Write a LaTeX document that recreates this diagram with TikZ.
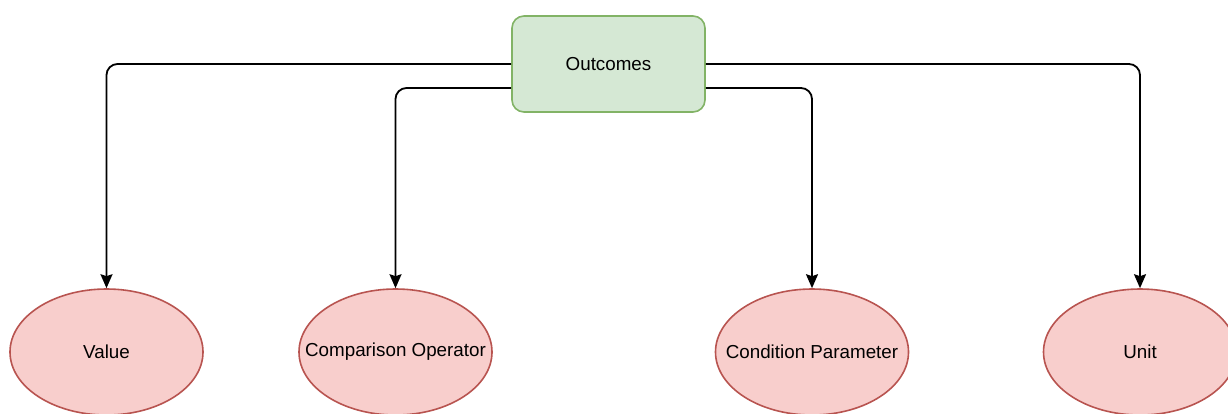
\documentclass[tikz,border=0pt]{standalone}
\usepackage{fontspec}
\setmainfont{Liberation Sans}
\usetikzlibrary{arrows.meta,shapes.geometric}
\definecolor{boxfill}{HTML}{D5E8D4}
\definecolor{boxline}{HTML}{82B366}
\definecolor{ovalfill}{HTML}{F8CECC}
\definecolor{ovalline}{HTML}{B85450}
\begin{document}
\begin{tikzpicture}[x=1pt,y=-1pt,
  every node/.style={font=\fontsize{18.8}{22}\selectfont, inner sep=0pt},
  topbox/.style={draw=boxline, fill=boxfill, line width=1.6pt, rounded corners=12pt,
    minimum width=193pt, minimum height=96pt},
  oval/.style={ellipse, draw=ovalline, fill=ovalfill, line width=1.6pt,
    minimum width=193pt, minimum height=126pt, label={center:#1}},
  conn/.style={draw=black, line width=1.8pt, rounded corners=11pt,
    -{Stealth[length=14pt,width=12pt,inset=2pt]}}]
\useasboundingbox (0,0) rectangle (1228,413);
% central box
\node[topbox] (out) at (608.5,64) {Outcomes};
% attribute ovals (text set as a centred label so it does not widen the shape)
\node[oval={Value}]               (val)  at (106.5,352) {};
\node[oval={Comparison Operator}] (cmp)  at (395.5,352) {};
\node[oval={Condition Parameter}] (cond) at (812,352)   {};
\node[oval={Unit}]                (unit) at (1140,352)  {};
% connectors
\draw[conn] (out.west) -| (val.north);
\draw[conn] ([yshift=-24pt]out.west) -| (cmp.north);
\draw[conn] ([yshift=-24pt]out.east) -| (cond.north);
\draw[conn] (out.east) -| (unit.north);
\end{tikzpicture}
\end{document}
